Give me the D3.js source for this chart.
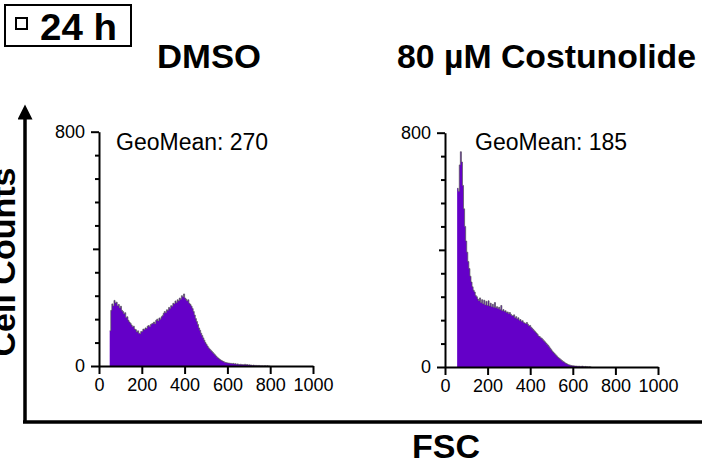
<!DOCTYPE html>
<html>
<head>
<meta charset="utf-8">
<script src="https://cdn.jsdelivr.net/npm/d3@7"></script>
<style>
body { margin: 0; background: #fff; }
svg { display: block; font-family: "Liberation Sans", Arial, sans-serif; }
</style>
</head>
<body>
<div id="chart-area"></div>
<script>
/*
*    FSC histograms, 24 h, DMSO vs Costunolide
*/

var width = 702, height = 465;

// histogram data: counts per 5-unit FSC bin
var binWidth = 5;
var dmsoStart = 50;
var dmsoCounts = [120, 190, 212, 205, 224, 215, 218, 206, 210, 198,
	204, 190, 186, 178, 182, 166, 168, 156, 150, 146,
	140, 134, 136, 126, 124, 116, 120, 112, 110, 118,
	118, 126, 124, 130, 128, 136, 138, 134, 142, 144,
	146, 150, 144, 156, 160, 154, 164, 160, 168, 172,
	180, 186, 182, 192, 190, 200, 196, 206, 204, 214,
	212, 222, 216, 226, 222, 232, 228, 240, 236, 246,
	232, 228, 222, 226, 214, 210, 204, 196, 186, 174,
	162, 152, 142, 130, 122, 112, 104, 96, 88, 80,
	74, 68, 62, 58, 54, 50, 46, 42, 38, 34,
	30, 27, 24, 21, 19, 17, 15, 13, 12, 11,
	10, 10, 9, 9, 8, 9, 7, 8, 6, 7,
	6, 5, 6, 5, 5, 4, 6, 4, 5, 3,
	4, 3, 3, 2, 3, 2, 2, 2, 1, 2,
	1, 1, 1, 0, 1, 1, 0, 1, 0, 0];
var costStart = 57;
var costCounts = [610, 600, 690, 735, 700, 620, 540, 480, 430, 392,
	360, 336, 310, 290, 274, 262, 256, 244, 240, 232,
	226, 236, 220, 230, 216, 228, 212, 224, 210, 226,
	208, 218, 206, 214, 204, 220, 202, 206, 200, 204,
	196, 210, 192, 196, 190, 192, 186, 188, 182, 186,
	180, 176, 174, 178, 168, 172, 164, 168, 160, 162,
	156, 158, 152, 150, 148, 152, 146, 140, 142, 136,
	132, 128, 124, 120, 116, 112, 106, 104, 100, 98,
	94, 90, 86, 82, 78, 74, 69, 64, 59, 54,
	50, 46, 42, 38, 34, 31, 28, 25, 22, 19,
	17, 14, 12, 10, 8, 7, 6, 5, 4, 4,
	3, 3, 3, 2, 3, 2, 2, 3, 2, 1,
	2, 1, 1, 0, 1, 0];

var xTicks = [0, 200, 400, 600, 800, 1000];
var yTicks = [0, 80, 160, 240, 320, 400, 480, 560, 640, 720, 800];
var yLabels = [0, 800];

var panels = [
	{title: "DMSO", geo: "GeoMean: 270", start: dmsoStart, counts: dmsoCounts,
	 x0: 99, x1: 313, y0: 366, y1: 131.7, titleX: 157, titleW: 104, geoX: 116},
	{title: "80 µM Costunolide", geo: "GeoMean: 185", start: costStart, counts: costCounts,
	 x0: 445, x1: 658, y0: 367, y1: 132.7, titleX: 397, titleW: 299, geoX: 475}
];

var svg = d3.select("#chart-area")
	.append("svg")
		.attr("width", width)
		.attr("height", height);

// "24 h" box
svg.append("rect")
	.attr("x", 5).attr("y", 5)
	.attr("width", 126).attr("height", 41)
	.attr("fill", "none").attr("stroke", "#000").attr("stroke-width", 2);
svg.append("rect")
	.attr("x", 16).attr("y", 18)
	.attr("width", 11).attr("height", 11)
	.attr("fill", "none").attr("stroke", "#000").attr("stroke-width", 2);
svg.append("text")
	.attr("x", 40).attr("y", 40)
	.attr("font-size", "36px").attr("font-weight", "bold")
	.attr("textLength", 77).attr("lengthAdjust", "spacingAndGlyphs")
	.text("24 h");

// big outer axes
svg.append("defs").append("marker")
	.attr("id", "arrow")
	.attr("viewBox", "0 0 10 10")
	.attr("refX", 5).attr("refY", 5)
	.attr("markerWidth", 16).attr("markerHeight", 15)
	.attr("markerUnits", "userSpaceOnUse")
	.attr("orient", "auto")
	.append("path")
		.attr("d", "M0,0 L10,5 L0,10 Z")
		.attr("fill", "#000");

svg.append("line")
	.attr("x1", 25).attr("y1", 423)
	.attr("x2", 25).attr("y2", 112)
	.attr("stroke", "#000").attr("stroke-width", 3.5)
	.attr("marker-end", "url(#arrow)");
svg.append("line")
	.attr("x1", 23).attr("y1", 422)
	.attr("x2", width).attr("y2", 422)
	.attr("stroke", "#000").attr("stroke-width", 3.5);

// y title, partly past the left edge as in the source figure
svg.append("text")
	.attr("transform", "translate(15,262) rotate(-90)")
	.attr("text-anchor", "middle")
	.attr("font-size", "34px").attr("font-weight", "bold")
	.text("Cell Counts");

svg.append("text")
	.attr("x", 412).attr("y", 458)
	.attr("font-size", "34px").attr("font-weight", "bold")
	.text("FSC");

panels.forEach(function(p){
	var xScale = d3.scaleLinear().domain([0, 1000]).range([p.x0, p.x1]);
	var yScale = d3.scaleLinear().domain([0, 800]).range([p.y0, p.y1]);

	// title
	svg.append("text")
		.attr("x", p.titleX).attr("y", 68)
		.attr("font-size", "34px").attr("font-weight", "bold")
		.attr("textLength", p.titleW).attr("lengthAdjust", "spacingAndGlyphs")
		.text(p.title);

	// histogram
	var bins = p.counts.map(function(c, i){
		return {x: p.start + i * binWidth, c: c};
	});
	bins.push({x: p.start + p.counts.length * binWidth, c: 0});

	var area = d3.area()
		.curve(d3.curveStepAfter)
		.x(function(d){ return xScale(d.x); })
		.y0(yScale(0))
		.y1(function(d){ return yScale(d.c); });
	var line = d3.line()
		.curve(d3.curveStepAfter)
		.x(function(d){ return xScale(d.x); })
		.y(function(d){ return yScale(d.c); });

	svg.append("path")
		.datum(bins)
		.attr("d", area)
		.attr("fill", "#6400c8");
	svg.append("path")
		.datum(bins)
		.attr("d", line)
		.attr("fill", "none")
		.attr("stroke", "#555")
		.attr("stroke-width", 0.7);

	// x axis
	var xAxis = svg.append("g")
		.attr("transform", "translate(0," + p.y0 + ")")
		.call(d3.axisBottom(xScale).tickValues(xTicks).tickSize(8).tickSizeOuter(0)
			.tickPadding(4).tickFormat(d3.format("d")));
	xAxis.selectAll("text")
		.attr("font-size", "18px")
		.attr("fill", "#000")
		.attr("font-family", "Liberation Sans, Arial, sans-serif");

	// y axis
	var yAxis = svg.append("g")
		.attr("transform", "translate(" + p.x0 + ",0)")
		.call(d3.axisLeft(yScale).tickValues(yTicks).tickSize(4).tickSizeOuter(0)
			.tickPadding(10)
			.tickFormat(function(d){ return yLabels.indexOf(d) >= 0 ? d : ""; }));
	yAxis.selectAll(".tick line")
		.attr("x2", function(d){ return (d == 0 || d == 800) ? -8 : (d == 400 ? -6 : -4); });
	yAxis.selectAll("text")
		.attr("font-size", "18px")
		.attr("fill", "#000")
		.attr("font-family", "Liberation Sans, Arial, sans-serif");

	svg.selectAll(".domain, .tick line")
		.attr("stroke", "#000")
		.attr("stroke-width", 2);

	// geo mean label
	svg.append("text")
		.attr("x", p.geoX).attr("y", 150)
		.attr("font-size", "23px")
		.text(p.geo);
});
</script>
</body>
</html>
